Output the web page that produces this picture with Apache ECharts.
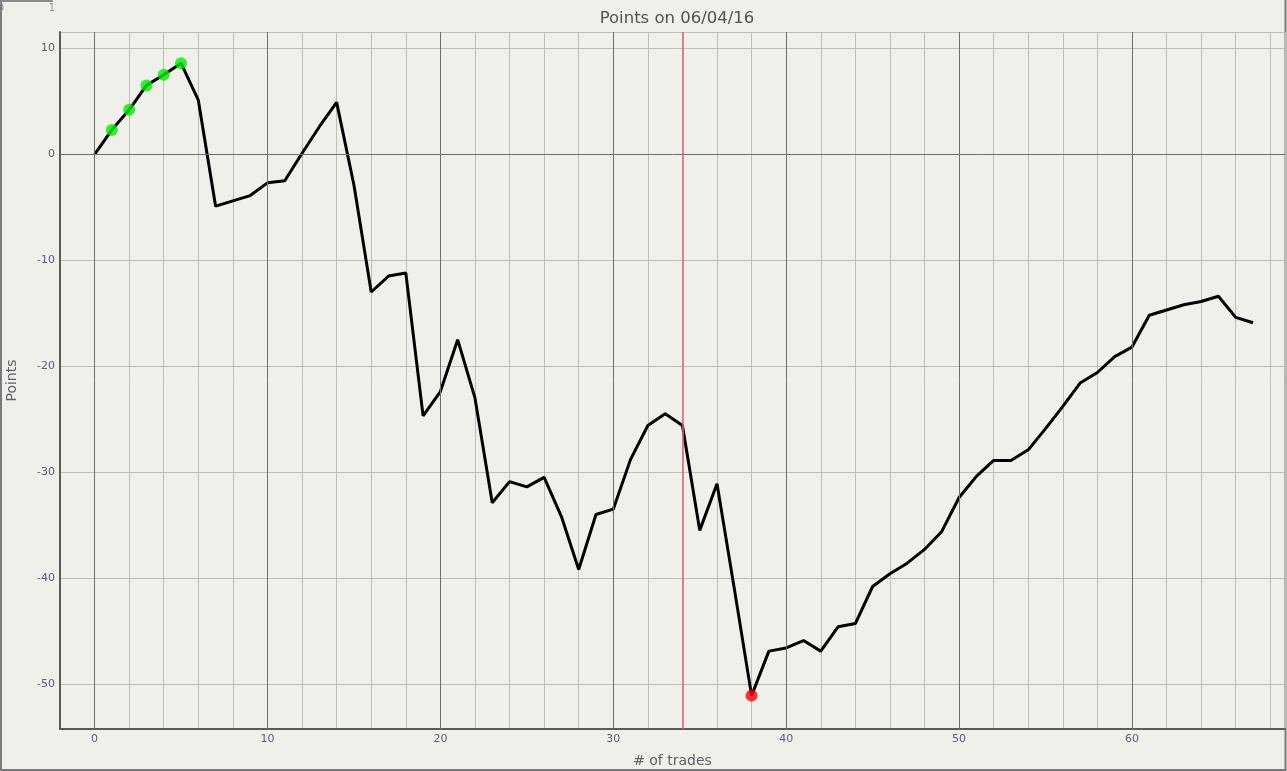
<!DOCTYPE html>
<html>
<head>
<meta charset="utf-8">
<script src="https://cdn.jsdelivr.net/npm/echarts@6/dist/echarts.min.js"></script>
<style>
html,body{margin:0;padding:0;background:#f0f0eb;}
#c{width:1287px;height:771px;}
</style>
</head>
<body>
<div id="c"></div>
<script>
// ---- data ----
const titleText = 'Points on 06/04/16';
const xName = '# of trades';
const yName = 'Points';
const points = [0, 2.3, 4.2, 6.5, 7.5, 8.6, 5.1, -4.9, -4.4, -3.9, -2.7, -2.5, 0.1, 2.6, 4.9, -2.9,
  -13.0, -11.5, -11.2, -24.7, -22.4, -17.5, -23.0, -32.9, -30.9, -31.4, -30.5, -34.2, -39.2, -34.0,
  -33.5, -28.8, -25.6, -24.5, -25.6, -35.5, -31.1, -41.0, -51.1, -46.9, -46.6, -45.9, -46.9, -44.6,
  -44.3, -40.8, -39.6, -38.6, -37.3, -35.6, -32.4, -30.4, -28.9, -28.9, -27.9, -25.9, -23.8, -21.6,
  -20.6, -19.1, -18.2, -15.2, -14.7, -14.2, -13.9, -13.4, -15.4, -15.9];
const greenIdx = [1, 2, 3, 4, 5];
const redIdx = [38];
const majorX = [0, 10, 20, 30, 40, 50, 60];
const majorY = [0];
const markerX = [34];
const miniTicks = [0, 1];

const lineData = points.map((v, i) => [i, v]);
const greenData = greenIdx.map(i => [i, points[i]]);
const redData = redIdx.map(i => [i, points[i]]);

const light = '#bdbdb5';
const dark = '#6e6e6e';
const labelColor = '#5c5c78';

const chart = echarts.init(document.getElementById('c'));
chart.setOption({
  backgroundColor: '#f0f0eb',
  animation: false,
  title: {
    text: titleText, left: 672, top: 5, textAlign: 'center',
    textStyle: {fontFamily: 'DejaVu Sans', fontSize: 16.5, fontWeight: 'normal', color: '#505058'}
  },
  grid: [
    {left: 60, right: 2, top: 32, bottom: 42, containLabel: false, outerBoundsMode: 'none'},
    {left: 1, top: 0, width: 51, height: 1, containLabel: false, outerBoundsMode: 'none'}
  ],
  xAxis: [
    {
      type: 'value', gridIndex: 0, min: -2, max: 68.85, minInterval: 2, maxInterval: 2,
      name: xName, nameLocation: 'middle', nameGap: 25,
      nameTextStyle: {fontFamily: 'DejaVu Sans', fontSize: 14, color: '#606066'},
      axisLine: {show: true, onZero: false, lineStyle: {color: '#5a5a5a', width: 2}},
      axisTick: {show: false},
      axisLabel: {fontFamily: 'DejaVu Sans', fontSize: 11, color: labelColor, margin: 5,
        formatter: v => (Math.abs(v % 10) < 1e-9 ? String(v) : '')},
      splitLine: {show: true, lineStyle: {color: light, width: 1}}
    },
    {
      type: 'value', gridIndex: 1, min: 0, max: 1, minInterval: 1, maxInterval: 1, position: 'bottom',
      axisLine: {show: true, onZero: false, lineStyle: {color: '#8a8a8a', width: 2}},
      axisTick: {show: false},
      axisLabel: {fontFamily: 'DejaVu Sans', fontSize: 10, color: '#9090a8', margin: 2,
        formatter: v => (miniTicks.includes(v) ? String(v) : '')},
      splitLine: {show: false}
    }
  ],
  yAxis: [
    {
      type: 'value', gridIndex: 0, min: -54.25, max: 11.54, minInterval: 10, maxInterval: 10,
      name: yName, nameLocation: 'middle', nameGap: 41, nameRotate: 90,
      nameTextStyle: {fontFamily: 'DejaVu Sans', fontSize: 14, color: '#606066'},
      axisLine: {show: true, onZero: false, lineStyle: {color: '#5a5a5a', width: 2}},
      axisTick: {show: false},
      axisLabel: {fontFamily: 'DejaVu Sans', fontSize: 11, color: labelColor, margin: 5,
        formatter: v => (Math.abs(v % 10) < 1e-9 ? String(v) : '')},
      splitLine: {show: true, lineStyle: {color: light, width: 1}}
    },
    {type: 'value', gridIndex: 1, show: false, min: 0, max: 1}
  ],
  series: [
    {
      type: 'line', xAxisIndex: 0, yAxisIndex: 0, data: [], z: 1, silent: true,
      markLine: {
        silent: true, symbol: 'none', label: {show: false}, animation: false,
        data: majorX.map(x => ({xAxis: x, lineStyle: {color: dark, width: 1, type: 'solid'}}))
          .concat(majorY.map(y => ({yAxis: y, lineStyle: {color: dark, width: 1, type: 'solid'}})))
          .concat(markerX.map(x => ({xAxis: x, lineStyle: {color: '#e0607a', width: 1.5, type: 'solid'}})))
      }
    },
    {
      type: 'line', xAxisIndex: 0, yAxisIndex: 0, data: lineData, z: 3,
      showSymbol: false, symbol: 'none',
      lineStyle: {color: '#000000', width: 3}
    },
    {
      type: 'scatter', xAxisIndex: 0, yAxisIndex: 0, data: greenData, z: 4,
      symbolSize: 12, itemStyle: {color: '#00ee00'}
    },
    {
      type: 'scatter', xAxisIndex: 0, yAxisIndex: 0, data: redData, z: 4,
      symbolSize: 12, itemStyle: {color: '#ff0000'}
    }
  ],
  graphic: [
    {type: 'polyline', silent: true, z: -10, shape: {points: [[1, 0], [1, 770], [1285.5, 770], [1285.5, 0]]},
      style: {stroke: '#7a7a7a', lineWidth: 2, fill: null}}
  ]
});
</script>
</body>
</html>
